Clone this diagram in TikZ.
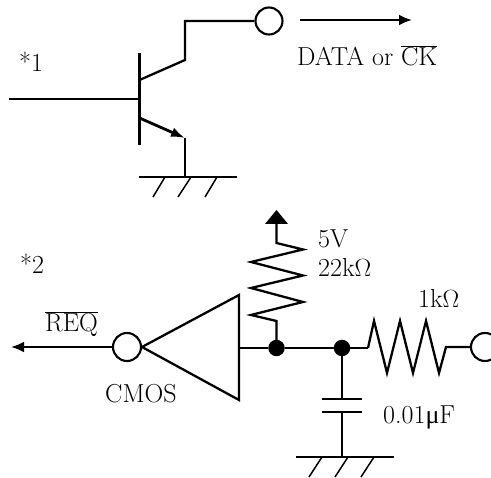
\documentclass[tikz,border=0pt]{standalone}
\usepackage{fontspec}
\usetikzlibrary{arrows.meta}
\newfontfamily\gkfont{Liberation Serif}
\tikzset{
  wire/.style={line width=2.3pt,line join=miter},
  thin wire/.style={line width=1.5pt},
  pin/.style={circle,draw,fill=white,line width=2.1pt,inner sep=0pt,minimum size=27pt},
  junction/.style={circle,fill=black,inner sep=0pt,minimum size=16.5pt},
  lbl/.style={inner sep=0pt,anchor=base west,font=\fontsize{26}{30}\selectfont},
  bigarrow/.style={wire,-{Latex[length=13pt,width=11pt]}}
}
\begin{document}
\begin{tikzpicture}[x=1pt,y=-1pt]
\useasboundingbox (0,0) rectangle (491,478);
% upper circuit
\coordinate (base) at (9,99);
\coordinate (bt) at (139.5,53);
\coordinate (bb) at (139.5,145);
\coordinate (bm) at (139.5,99);
\coordinate (c1) at (139.5,80);
\coordinate (c2) at (185,60);
\coordinate (c3) at (185,21);
\coordinate (e1) at (139.5,118);
\coordinate (e2) at (185,138);
\coordinate (g1) at (185,177);
\node[pin] (out1) at (269,21) {};
\draw[wire] (base) -- (bm);
\draw[wire] (bt) -- (bb);
\draw[wire] (c1) -- (c2) -- (c3) -- (out1);
\draw[wire,line width=2.8pt,-{Latex[length=14pt,width=10pt]}] (e1) -- (e2);
\draw[wire] (e2) -- (g1);
\coordinate (ga) at (139,177); \coordinate (gb) at (237,177);
\draw[thin wire] (ga) -- (gb);
\draw[thin wire] (165,177) -- (153,197) (191,177) -- (178,197) (217,177) -- (205,197);
\coordinate (a1) at (300,20); \coordinate (a2) at (412,20);
\draw[bigarrow] (a1) -- (a2);
\node[lbl] (l1) at (19,72) {*1};
\node[lbl] (ldata) at (297,66) {DATA or $\overline{\mbox{CK}}$};
% lower circuit
\node[junction] (j1) at (276.5,348) {};
\node[junction] (j2) at (342,348) {};
\node[pin,minimum size=28pt] (bub) at (127,347) {};
\node[pin,minimum size=28pt] (out2) at (485,347) {};
\coordinate (t1) at (239,295); \coordinate (t2) at (239,400); \coordinate (t3) at (142,347);
\coordinate (tm) at (239,348);
\draw[wire] (t1) -- (t2) -- (t3) -- cycle;
\coordinate (reqtip) at (11,347);
\draw[wire,-{Latex[length=13pt,width=11pt]}] (bub) -- (reqtip);
\draw[wire] (tm) -- (j1) -- (j2) -- (368,348);
\draw[wire] (368,348) -- (374,321) -- (387,373) -- (400,321) -- (413,373) -- (426,321) -- (439,373) -- (446,347) -- (out2);
\coordinate (vcc) at (276.5,210);
\draw[wire] (j1.center) -- (276.5,321) -- (251,315) -- (303,302) -- (251,288) -- (303,275.5) -- (251,262) -- (303,249.5) -- (276.5,243) -- (276.5,224);
\fill (vcc) -- (288,224) -- (265,224) -- cycle;
\coordinate (cp1) at (342,399); \coordinate (cp2) at (342,412); \coordinate (g2) at (342,457);
\draw[wire] (j2) -- (cp1);
\draw[wire] (cp2) -- (g2);
\draw[wire] (322,399) -- (362,399);
\draw[wire] (322,412) -- (362,412);
\draw[thin wire] (296,457) -- (394,457);
\draw[thin wire] (322,457) -- (309,477) (348,457) -- (335,477) (374,457) -- (361,477);
\node[lbl] (l2) at (20,274) {*2};
\node[lbl] (lreq) at (45,332) {$\overline{\mbox{REQ}}$};
\node[lbl] (lcmos) at (105,403) {CMOS};
\node[lbl] (l5v) at (318,248) {5V};
\node[lbl] (l22k) at (318,277) {22k$\Omega$};
\node[lbl] (l1k) at (418,308) {1k$\Omega$};
\node[lbl] (lc) at (383,424) {0.01{\gkfont μ}F};
\end{tikzpicture}
\end{document}
